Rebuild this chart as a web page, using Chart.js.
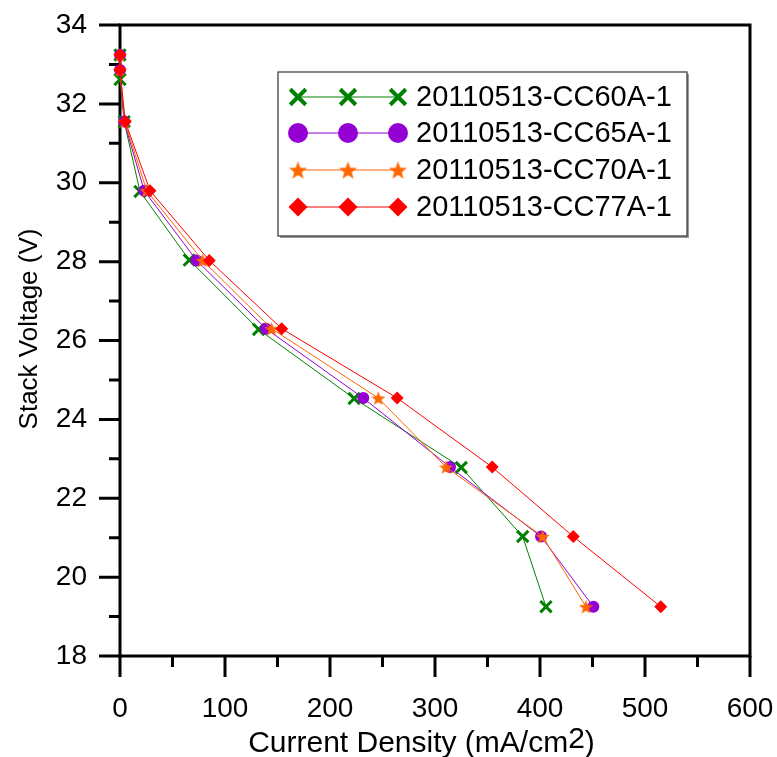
<!DOCTYPE html>
<html>
<head>
<meta charset="utf-8">
<script src="https://cdn.jsdelivr.net/npm/chart.js@4"></script>
<style>
  body { margin: 0; background: #fff; }
  canvas { display: block; }
</style>
</head>
<body>
<canvas id="chart" width="777" height="757"></canvas>
<script>
// Datos
const seriesNames = ["20110513-CC60A-1", "20110513-CC65A-1", "20110513-CC70A-1", "20110513-CC77A-1"];
const seriesColors = ["#008000", "#9400d3", "#ff6600", "#ff0000"];

const cc60Current = [0, 0, 4, 19, 66, 132, 223, 325, 383.5, 405.7];
const cc60Voltage = [33.24, 32.62, 31.55, 29.78, 28.04, 26.28, 24.53, 22.78, 21.03, 19.25];
const cc65Current = [0, 0, 4, 23, 73, 139, 231.7, 314.3, 401, 450.8];
const cc70Current = [0, 0, 4.5, 25.4, 78.7, 144.4, 246, 310.5, 402.5, 443.8];
const cc77Current = [0, 0, 5, 28.6, 85, 154, 264, 354.5, 431.7, 515];
const stackVoltage = [33.24, 32.86, 31.55, 29.8, 28.03, 26.3, 24.54, 22.79, 21.03, 19.25];

const xTicks = [0, 100, 200, 300, 400, 500, 600];
const yTicks = [18, 20, 22, 24, 26, 28, 30, 32, 34];

const FONT = "'Liberation Sans', Arial, sans-serif";
Chart.defaults.font.family = FONT;
Chart.defaults.color = "#000";

function toPoints(xs, ys) {
    return xs.map((x, i) => ({ x: x, y: ys[i] }));
}

// Estrella rellena de 5 puntas como imagen para pointStyle
function makeStar(r, color) {
    const c = document.createElement("canvas");
    c.width = r * 2 + 2;
    c.height = r * 2 + 2;
    const g = c.getContext("2d");
    const cx = c.width / 2, cy = c.height / 2 + r * 0.1;
    g.beginPath();
    for (let i = 0; i < 10; i++) {
        const rr = i % 2 === 0 ? r : r * 0.42;
        const a = -Math.PI / 2 + i * Math.PI / 5;
        const px = cx + rr * Math.cos(a), py = cy + rr * Math.sin(a);
        if (i === 0) g.moveTo(px, py); else g.lineTo(px, py);
    }
    g.closePath();
    g.fillStyle = color;
    g.fill();
    return c;
}

const starSmall = makeStar(7.5, seriesColors[2]);
const starBig = makeStar(9.5, seriesColors[2]);

const markerStyles = [
    { pointStyle: "crossRot", radius: 8, borderWidth: 3, big: 11 },
    { pointStyle: "circle", radius: 6, borderWidth: 0, big: 10 },
    { pointStyle: starSmall, radius: 7, borderWidth: 0, big: 10 },
    { pointStyle: "rectRot", radius: 6.5, borderWidth: 0, big: 9.5 }
];

const currents = [cc60Current, cc65Current, cc70Current, cc77Current];
const voltages = [cc60Voltage, stackVoltage, stackVoltage, stackVoltage];

const datasets = seriesNames.map((name, i) => ({
    label: name,
    data: toPoints(currents[i], voltages[i]),
    borderColor: seriesColors[i],
    backgroundColor: seriesColors[i],
    borderWidth: 1,
    showLine: true,
    clip: false,
    pointStyle: markerStyles[i].pointStyle,
    pointRadius: markerStyles[i].radius,
    pointBorderWidth: markerStyles[i].borderWidth,
    pointBorderColor: seriesColors[i],
    pointBackgroundColor: seriesColors[i],
    order: 4 - i
}));

// Marco, marcas de los ejes, títulos y leyenda
const decorations = {
    id: "decorations",
    beforeDatasetsDraw(chart) {
        const ctx = chart.ctx;
        const a = chart.chartArea;
        const xs = chart.scales.x, ys = chart.scales.y;
        ctx.save();
        ctx.strokeStyle = "#000";
        ctx.lineWidth = 3;
        ctx.strokeRect(a.left, a.top, a.right - a.left, a.bottom - a.top);
        ctx.beginPath();
        for (let v = 18; v <= 34; v++) {
            const y = ys.getPixelForValue(v);
            const len = v % 2 === 0 ? 21 : 11;
            ctx.moveTo(a.left - len, y);
            ctx.lineTo(a.left, y);
        }
        for (let v = 0; v <= 600; v += 50) {
            const x = xs.getPixelForValue(v);
            const len = v % 100 === 0 ? 21 : 11;
            ctx.moveTo(x, a.bottom);
            ctx.lineTo(x, a.bottom + len);
        }
        ctx.stroke();
        ctx.restore();
    },
    afterDraw(chart) {
        const ctx = chart.ctx;
        const a = chart.chartArea;
        ctx.save();
        ctx.fillStyle = "#000";
        ctx.textBaseline = "alphabetic";

        // Título del eje X con superíndice
        ctx.font = "30px " + FONT;
        const main = "Current Density (mA/cm";
        const sup = "2";
        const tail = ")";
        const w1 = ctx.measureText(main).width;
        const w2 = ctx.measureText(sup).width;
        const w3 = ctx.measureText(tail).width;
        const x0 = 421.5 - (w1 + w2 + w3) / 2;
        const yb = 752;
        ctx.fillText(main, x0, yb);
        ctx.fillText(sup, x0 + w1, yb - 4);
        ctx.fillText(tail, x0 + w1 + w2, yb);

        // Título del eje Y
        ctx.font = "26px " + FONT;
        ctx.save();
        ctx.translate(37, 329);
        ctx.rotate(-Math.PI / 2);
        ctx.textAlign = "center";
        ctx.fillText("Stack Voltage (V)", 0, 0);
        ctx.restore();

        // Leyenda
        const box = { x: 278, y: 72, w: 409, h: 164 };
        ctx.fillStyle = "#fff";
        ctx.fillRect(box.x, box.y, box.w, box.h);
        ctx.fillStyle = "#9a9a9a";
        ctx.fillRect(box.x + 2, box.y + box.h, box.w, 2);
        ctx.fillRect(box.x + box.w, box.y + 2, 2, box.h);
        ctx.strokeStyle = "#333";
        ctx.lineWidth = 1.2;
        ctx.strokeRect(box.x, box.y, box.w, box.h);

        const rowY = [97, 133, 170, 207];
        ctx.font = "29px " + FONT;
        ctx.textBaseline = "middle";
        seriesNames.forEach((name, i) => {
            const y = rowY[i];
            ctx.strokeStyle = seriesColors[i];
            ctx.lineWidth = 1;
            ctx.beginPath();
            ctx.moveTo(298, y);
            ctx.lineTo(398, y);
            ctx.stroke();
            [298, 348, 398].forEach(px => {
                ctx.fillStyle = seriesColors[i];
                ctx.strokeStyle = seriesColors[i];
                ctx.lineWidth = i === 0 ? 4 : 0;
                Chart.helpers.drawPoint(ctx, {
                    pointStyle: i === 2 ? starBig : markerStyles[i].pointStyle,
                    radius: markerStyles[i].big,
                    borderWidth: i === 0 ? 4 : 0,
                    rotation: 0
                }, px, y);
            });
            ctx.fillStyle = "#000";
            ctx.fillText(name, 416, y + 1);
        });
        ctx.restore();
    }
};

const ctx = document.getElementById("chart").getContext("2d");
const chart = new Chart(ctx, {
    type: "scatter",
    data: { datasets: datasets },
    plugins: [decorations],
    options: {
        responsive: false,
        animation: false,
        layout: { padding: { left: 0, top: 25, right: 27, bottom: 0 } },
        plugins: {
            legend: { display: false },
            tooltip: { enabled: false }
        },
        scales: {
            x: {
                type: "linear",
                min: 0,
                max: 600,
                afterFit: s => { s.height = 101; s.paddingLeft = 0; s.paddingRight = 0; },
                afterBuildTicks: s => { s.ticks = xTicks.map(v => ({ value: v })); },
                grid: { display: false, drawTicks: false },
                border: { display: false },
                ticks: { padding: 36, font: { size: 28 }, color: "#000" }
            },
            y: {
                type: "linear",
                min: 18,
                max: 34,
                afterFit: s => { s.width = 120; s.paddingTop = 0; s.paddingBottom = 0; },
                afterBuildTicks: s => { s.ticks = yTicks.map(v => ({ value: v })); },
                grid: { display: false, drawTicks: false },
                border: { display: false },
                ticks: { padding: 33, font: { size: 28 }, color: "#000" }
            }
        }
    }
});
</script>
</body>
</html>
